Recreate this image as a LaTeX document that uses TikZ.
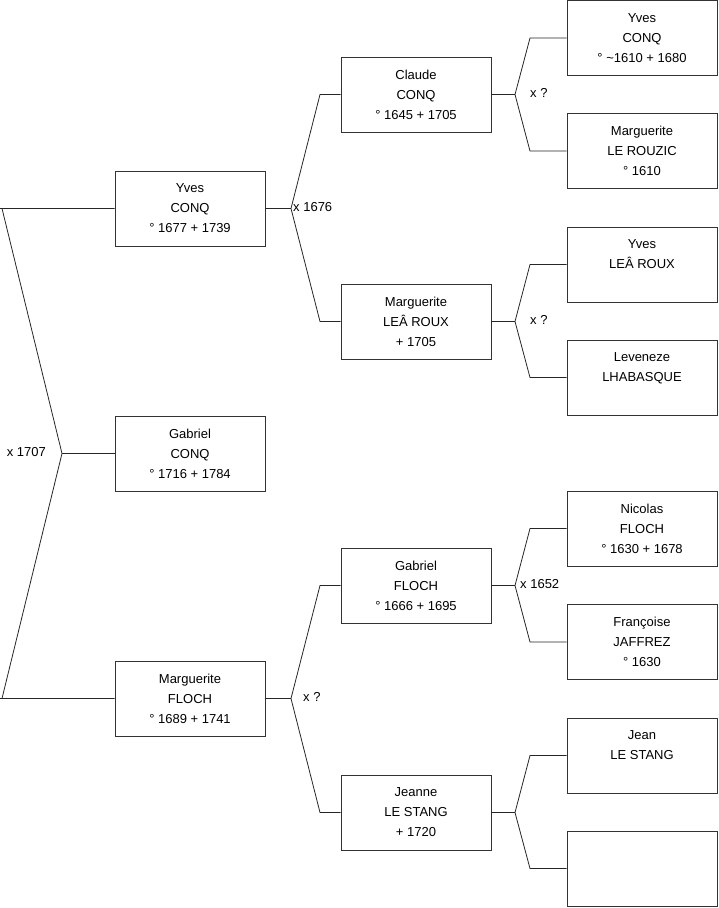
\documentclass[tikz,border=0pt]{standalone}
\usepackage{fontspec}
\setmainfont{Liberation Sans}
\begin{document}
\begin{tikzpicture}[x=1pt,y=-1pt,
  person/.style={draw=black!80, line width=0.8pt, minimum width=150pt, minimum height=75pt, inner sep=0pt, align=center, font=\fontsize{13}{20}\selectfont, fill=white},
  link/.style={draw=black!85, line width=0.8pt},
  marr/.style={font=\fontsize{13}{14}\selectfont, inner sep=1pt}]
\useasboundingbox (0,0) rectangle (719,908);
% generation 1
\node[person] (yc) at (190,208.5) {Yves\\CONQ\\° 1677 + 1739};
\node[person] (gc) at (190,453.5) {Gabriel\\CONQ\\° 1716 + 1784};
\node[person] (mf) at (190,698.5) {Marguerite\\FLOCH\\° 1689 + 1741};
% generation 2
\node[person] (cc) at (416,94.5) {Claude\\CONQ\\° 1645 + 1705};
\node[person] (ml) at (416,321.5) {Marguerite\\LEÂ ROUX\\+ 1705};
\node[person] (gf) at (416,585.5) {Gabriel\\FLOCH\\° 1666 + 1695};
\node[person] (jl) at (416,812.5) {Jeanne\\LE STANG\\+ 1720};
% generation 3
\node[person] (y3) at (642,38) {Yves\\CONQ\\° \textasciitilde1610 + 1680};
\node[person] (m3) at (642,151) {Marguerite\\LE ROUZIC\\° 1610};
\node[person] (yl) at (642,264.5) {Yves\\LEÂ ROUX\\\mbox{}};
\node[person] (lh) at (642,377.5) {Leveneze\\LHABASQUE\\\mbox{}};
\node[person] (nf) at (642,528.5) {Nicolas\\FLOCH\\° 1630 + 1678};
\node[person] (fj) at (642,642) {Françoise\\JAFFREZ\\° 1630};
\node[person] (js) at (642,755.5) {Jean\\LE STANG\\\mbox{}};
\node[person] (ex) at (642,868.5) {};
% junctions
\coordinate (j0) at (62,453.5);
\coordinate (j0u) at (2,208.5);
\coordinate (j0d) at (2,698.5);
\coordinate (j0e) at (0,208.5);
\coordinate (j0f) at (0,698.5);
\coordinate (j1) at (291,208.5);
\coordinate (j1u) at (320,94.5);
\coordinate (j1d) at (320,321.5);
\coordinate (j2) at (291,698.5);
\coordinate (j2u) at (320,585.5);
\coordinate (j2d) at (320,812.5);
\coordinate (j3) at (515,94.5);
\coordinate (j3u) at (530,38);
\coordinate (j3d) at (530,151);
\coordinate (j4) at (515,321.5);
\coordinate (j4u) at (530,264.5);
\coordinate (j4d) at (530,377.5);
\coordinate (j5) at (515,585.5);
\coordinate (j5u) at (530,528.5);
\coordinate (j5d) at (530,642);
\coordinate (j6) at (515,812.5);
\coordinate (j6u) at (530,755.5);
\coordinate (j6d) at (530,868.5);
% connectors
\draw[link] (gc.west) -- (j0);
\draw[link] (j0) -- (j0u) -- (yc.west);
\draw[link] (j0e) -- (j0u);
\draw[link] (j0) -- (j0d) -- (mf.west);
\draw[link] (j0f) -- (j0d);
\draw[link] (yc.east) -- (j1);
\draw[link] (j1) -- (j1u) -- (cc.west);
\draw[link] (j1) -- (j1d) -- (ml.west);
\draw[link] (mf.east) -- (j2);
\draw[link] (j2) -- (j2u) -- (gf.west);
\draw[link] (j2) -- (j2d) -- (jl.west);
\draw[link] (cc.east) -- (j3);
\draw[link] (j3) -- (j3u) -- (y3.west);
\draw[link] (j3) -- (j3d) -- (m3.west);
\draw[link] (ml.east) -- (j4);
\draw[link] (j4) -- (j4u) -- (yl.west);
\draw[link] (j4) -- (j4d) -- (lh.west);
\draw[link] (gf.east) -- (j5);
\draw[link] (j5) -- (j5u) -- (nf.west);
\draw[link] (j5) -- (j5d) -- (fj.west);
\draw[link] (jl.east) -- (j6);
\draw[link] (j6) -- (j6u) -- (js.west);
\draw[link] (j6) -- (j6d) -- (ex.west);
% marriage labels
\node[marr, anchor=east] (l0) at (47,452) {x 1707};
\node[marr, anchor=west] (l1) at (292,207) {x 1676};
\node[marr, anchor=west] (l2) at (302,697) {x ?};
\node[marr, anchor=west] (l3) at (529,93) {x ?};
\node[marr, anchor=west] (l4) at (529,320) {x ?};
\node[marr, anchor=west] (l5) at (519,584) {x 1652};
\end{tikzpicture}
\end{document}
